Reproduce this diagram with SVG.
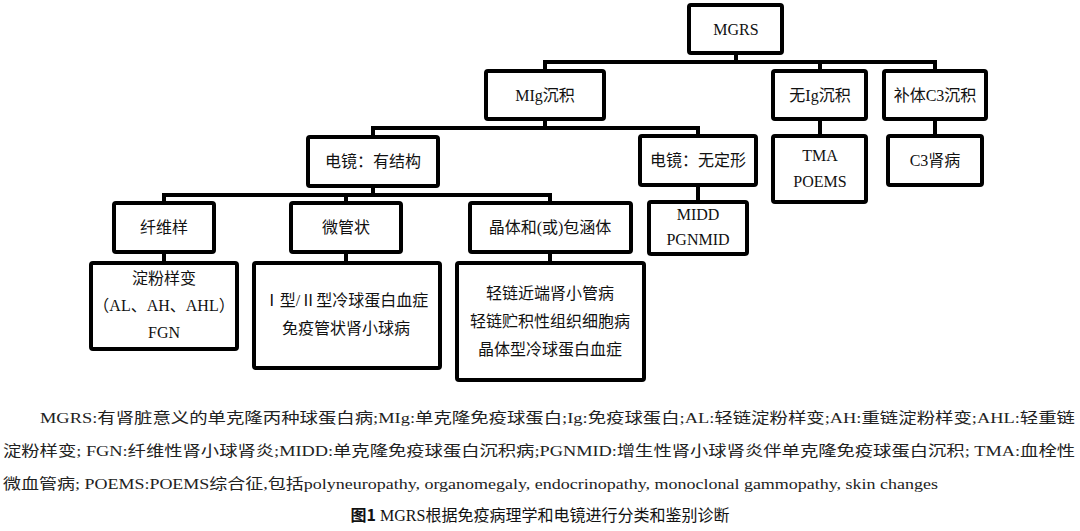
<svg xmlns="http://www.w3.org/2000/svg" width="1080" height="531" viewBox="0 0 1080 531">
<style>
.b{fill:#fff;stroke:#000;stroke-width:4;}
.t{font-family:"Liberation Serif","Noto Sans CJK SC",serif;font-size:16px;fill:#111;text-anchor:middle;}
.c{stroke:#000;stroke-width:4;fill:none;stroke-linecap:square;}
.cap{font-family:"Liberation Serif","Noto Sans CJK SC",serif;font-size:15px;fill:#222;}
</style>
<rect width="1080" height="531" fill="#fff"/>
<g id="connectors">
<line class="c" x1="736" y1="53" x2="736" y2="62"/>
<line class="c" x1="545" y1="62" x2="935" y2="62"/>
<line class="c" x1="545" y1="62" x2="545" y2="71"/>
<line class="c" x1="820" y1="62" x2="820" y2="71"/>
<line class="c" x1="935" y1="62" x2="935" y2="71"/>
<line class="c" x1="545" y1="119" x2="545" y2="128"/>
<line class="c" x1="373" y1="128" x2="698" y2="128"/>
<line class="c" x1="373" y1="128" x2="373" y2="137"/>
<line class="c" x1="698" y1="128" x2="698" y2="136"/>
<line class="c" x1="373" y1="186" x2="373" y2="195"/>
<line class="c" x1="164" y1="195" x2="550" y2="195"/>
<line class="c" x1="164" y1="195" x2="164" y2="203"/>
<line class="c" x1="346" y1="195" x2="346" y2="203"/>
<line class="c" x1="550" y1="195" x2="550" y2="203"/>
<line class="c" x1="820" y1="119" x2="820" y2="136"/>
<line class="c" x1="935" y1="119" x2="935" y2="136"/>
<line class="c" x1="698" y1="185" x2="698" y2="202"/>
<line class="c" x1="164" y1="252" x2="164" y2="263"/>
<line class="c" x1="346" y1="252" x2="346" y2="263"/>
<line class="c" x1="550" y1="252" x2="550" y2="263"/>
</g>
<g id="mgrs"><rect class="b" x="689" y="5" width="93" height="48" rx="2"/><text class="t" x="736" y="35">MGRS</text></g>
<g id="mig"><rect class="b" x="486" y="71" width="118" height="48" rx="2"/><text class="t" x="545" y="101">MIg沉积</text></g>
<g id="noig"><rect class="b" x="773" y="71" width="93" height="48" rx="2"/><text class="t" x="820" y="101">无Ig沉积</text></g>
<g id="c3"><rect class="b" x="884" y="71" width="102" height="48" rx="2"/><text class="t" x="935" y="101">补体C3沉积</text></g>
<g id="emstruct"><rect class="b" x="308" y="137" width="130" height="49" rx="2"/><text class="t" x="373" y="167">电镜：有结构</text></g>
<g id="emamorph"><rect class="b" x="640" y="136" width="116" height="49" rx="2"/><text class="t" x="698" y="166">电镜：无定形</text></g>
<g id="tma"><rect class="b" x="773" y="136" width="93" height="66" rx="2"/><text class="t" x="820" y="161">TMA</text><text class="t" x="820" y="187">POEMS</text></g>
<g id="c3gn"><rect class="b" x="888" y="136" width="94" height="49" rx="2"/><text class="t" x="935" y="166">C3肾病</text></g>
<g id="midd"><rect class="b" x="649" y="202" width="98" height="52" rx="2"/><text class="t" x="698" y="220">MIDD</text><text class="t" x="698" y="245">PGNMID</text></g>
<g id="fib"><rect class="b" x="114" y="203" width="100" height="49" rx="2"/><text class="t" x="164" y="233">纤维样</text></g>
<g id="micro"><rect class="b" x="291" y="203" width="110" height="49" rx="2"/><text class="t" x="346" y="233">微管状</text></g>
<g id="crystal"><rect class="b" x="470" y="203" width="161" height="49" rx="2"/><text class="t" x="550" y="233">晶体和(或)包涵体</text></g>
<g id="amyloid"><rect class="b" x="91" y="263" width="146" height="86" rx="2"/><text class="t" x="164" y="284">淀粉样变</text><text class="t" x="164" y="311">（AL、AH、AHL）</text><text class="t" x="164" y="338">FGN</text></g>
<g id="cryo"><rect class="b" x="254" y="263" width="186" height="105" rx="2"/><text class="t" x="346" y="306">Ⅰ型/Ⅱ型冷球蛋白血症</text><text class="t" x="346" y="334">免疫管状肾小球病</text></g>
<g id="lc"><rect class="b" x="457" y="263" width="187" height="117" rx="2"/><text class="t" x="550" y="299">轻链近端肾小管病</text><text class="t" x="550" y="327">轻链贮积性组织细胞病</text><text class="t" x="550" y="355">晶体型冷球蛋白血症</text></g>
<g id="caption">
<text class="cap" x="40" y="423" textLength="1035" lengthAdjust="spacingAndGlyphs">MGRS:有肾脏意义的单克隆丙种球蛋白病;MIg:单克隆免疫球蛋白;Ig:免疫球蛋白;AL:轻链淀粉样变;AH:重链淀粉样变;AHL:轻重链</text>
<text class="cap" x="3" y="456" textLength="1072" lengthAdjust="spacingAndGlyphs">淀粉样变; FGN:纤维性肾小球肾炎;MIDD:单克隆免疫球蛋白沉积病;PGNMID:增生性肾小球肾炎伴单克隆免疫球蛋白沉积; TMA:血栓性</text>
<text class="cap" x="3" y="489" textLength="935" lengthAdjust="spacingAndGlyphs">微血管病; POEMS:POEMS综合征,包括polyneuropathy, organomegaly, endocrinopathy, monoclonal gammopathy, skin changes</text>
<text x="540" y="521" text-anchor="middle" font-family="'Liberation Serif','Noto Sans CJK SC',serif" font-size="16" fill="#111"><tspan font-weight="bold" font-family="'Noto Sans CJK SC',sans-serif">图1</tspan>   MGRS根据免疫病理学和电镜进行分类和鉴别诊断</text>
</g>
</svg>
